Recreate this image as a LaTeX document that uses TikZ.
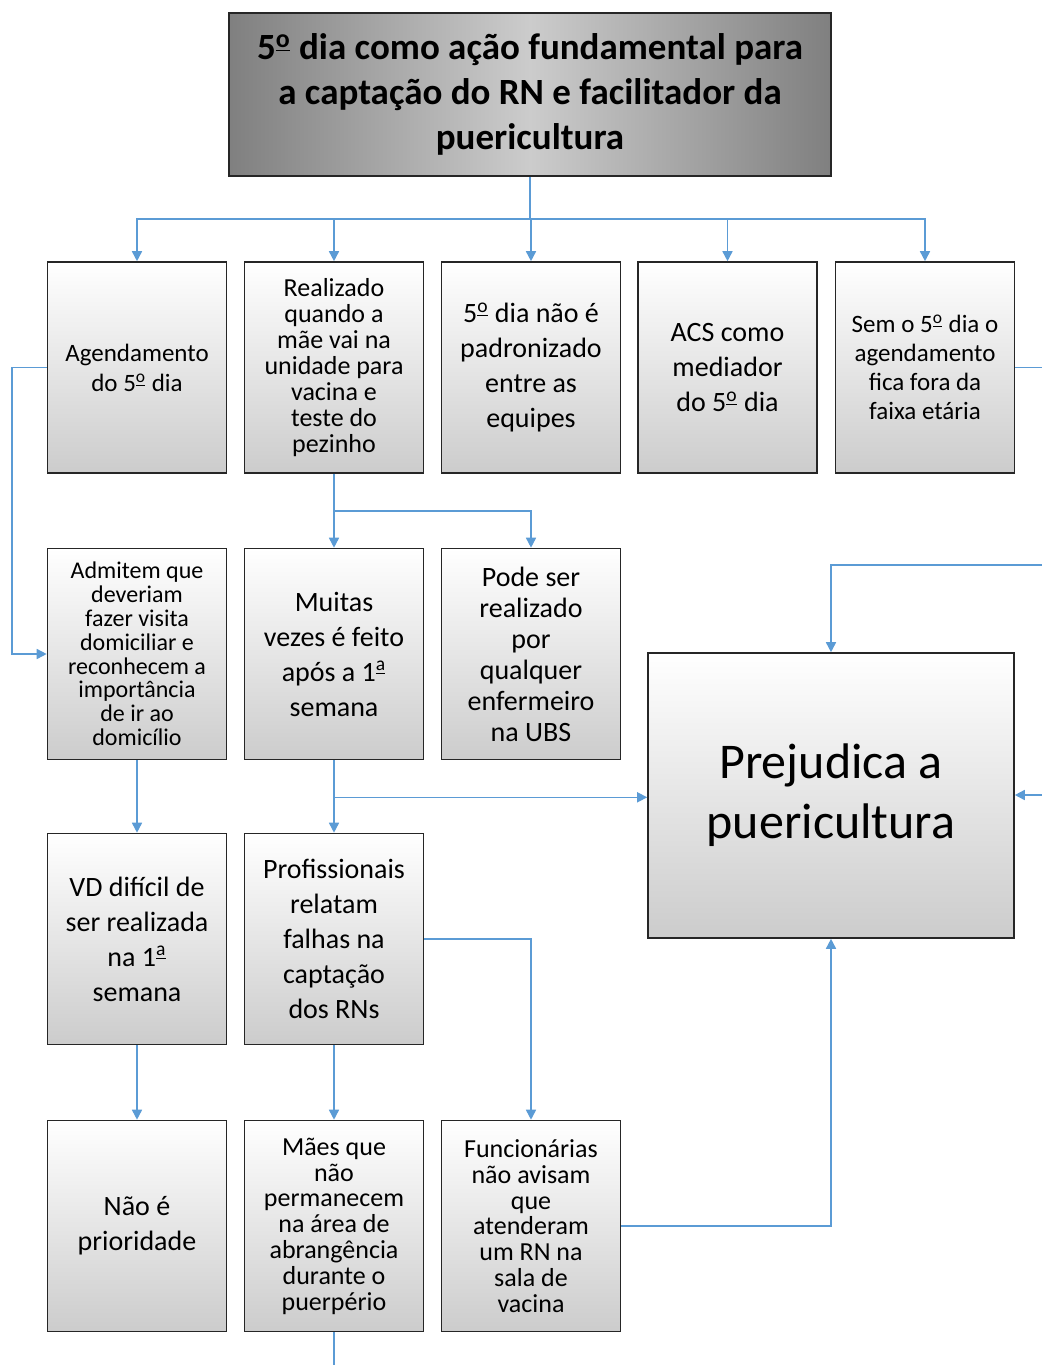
\documentclass[tikz,border=0pt]{standalone}
\usepackage{fontspec}
\setmainfont{Carlito}
\usetikzlibrary{arrows.meta}
\definecolor{azul}{HTML}{5B9BD5}
\newcommand{\ordo}{\textsuperscript{\underline{o}}}
\newcommand{\orda}{\textsuperscript{\underline{a}}}
\begin{document}
\begin{tikzpicture}[x=0.5pt,y=-0.5pt,line cap=butt,line join=miter,>={Triangle[width=5pt,length=5pt]}]
	\tikzset{caixa/.style={draw=black!85,line width=0.8pt,top color=white,bottom color=black!20,minimum width=89.5pt,minimum height=105.5pt,align=center,inner sep=2pt},
		fonte/.style 2 args={font=\fontsize{#1}{#2}\selectfont},
		linha/.style={draw=azul,line width=0.8pt},seta/.style={linha,->}}
	\useasboundingbox (0,0) rectangle (1042,1365);
	% titulo
	\node[draw=black!85,line width=0.8pt,left color=black!50,right color=black!50,middle color=black!20,minimum width=301pt,minimum height=81.5pt,align=center,font=\fontsize{18.5}{22.5}\selectfont\bfseries] (titulo) at (530,94.5) {5\ordo{} dia como ação fundamental para\\a captação do RN e facilitador da\\puericultura};
	% primeira linha
	\node[caixa,fonte={12.5}{15}] (a1) at (137,367.5) {Agendamento\\do 5\ordo{} dia};
	\node[caixa,fonte={13}{13}] (a2) at (334,367.5) {Realizado\\quando a\\mãe vai na\\unidade para\\vacina e\\teste do\\pezinho};
	\node[caixa,fonte={14}{17.5}] (a3) at (531,367.5) {5\ordo{} dia não é\\padronizado\\entre as\\equipes};
	\node[caixa,fonte={14}{17.5}] (a4) at (727.5,367.5) {ACS como\\mediador\\do 5\ordo{} dia};
	\node[caixa,fonte={12.5}{14.5}] (a5) at (925,367.5) {Sem o 5\ordo{} dia o\\agendamento\\fica fora da\\faixa etária};
	% segunda linha
	\node[caixa,fonte={12}{11.9}] (b1) at (137,654) {Admitem que\\deveriam\\fazer visita\\domiciliar e\\reconhecem a\\importância\\de ir ao\\domicílio};
	\node[caixa,fonte={14}{17.5}] (b2) at (334,654) {Muitas\\vezes é feito\\após a 1\orda\\semana};
	\node[caixa,fonte={14}{15.5}] (b3) at (531,654) {Pode ser\\realizado\\por\\qualquer\\enfermeiro\\na UBS};
	\node[caixa,minimum width=183pt,minimum height=142.5pt,fonte={25}{30}] (pp) at (831,795.5) {Prejudica a\\puericultura};
	% terceira linha
	\node[caixa,fonte={14}{17.5}] (c1) at (137,939) {VD difícil de\\ser realizada\\na 1\orda\\semana};
	\node[caixa,fonte={14}{17.5}] (c2) at (334,939) {Profissionais\\relatam\\falhas na\\captação\\dos RNs};
	% quarta linha
	\node[caixa,fonte={14}{17.5}] (d1) at (137,1226) {Não é\\prioridade};
	\node[caixa,fonte={13}{12.9}] (d2) at (334,1226) {Mães que\\não\\permanecem\\na área de\\abrangência\\durante o\\puerpério};
	\node[caixa,fonte={13}{12.9}] (d3) at (531,1226) {Funcionárias\\não avisam\\que\\atenderam\\um RN na\\sala de\\vacina};
	% ligacoes
	\draw[linha] (titulo.south) -- ++(0,42) coordinate (barra);
	\foreach \n in {a1,a2,a3,a4,a5} \draw[seta] (barra) -| (\n.north);
	\draw[seta] (a1.west) -- ++(-35,0) |- (b1.west);
	\coordinate (borda) at (1042,0);
	\coordinate (volta) at (1042,565);
	\coordinate (entra) at (1042,795);
	\draw[linha] (a5.east) -- (a5.east -| borda);
	\draw[seta] (volta) -| (pp.north);
	\draw[seta] (entra) -- (entra -| pp.east);
	\draw[seta] (a2.south) -- (b2.north);
	\draw[seta] (a2.south) -- ++(0,37) -| (b3.north);
	\draw[seta] (b2.south) -- (c2.north);
	\draw[seta] (b2.south) -- ++(0,37) coordinate (j) -- (j -| pp.west);
	\draw[seta] (b1.south) -- (c1.north);
	\draw[seta] (c1.south) -- (d1.north);
	\draw[seta] (c2.south) -- (d2.north);
	\draw[seta] (c2.east) -| (d3.north);
	\draw[seta] (d3.east) -| (pp.south);
	\draw[linha] (d2.south) -- ++(0,33);
\end{tikzpicture}
\end{document}
